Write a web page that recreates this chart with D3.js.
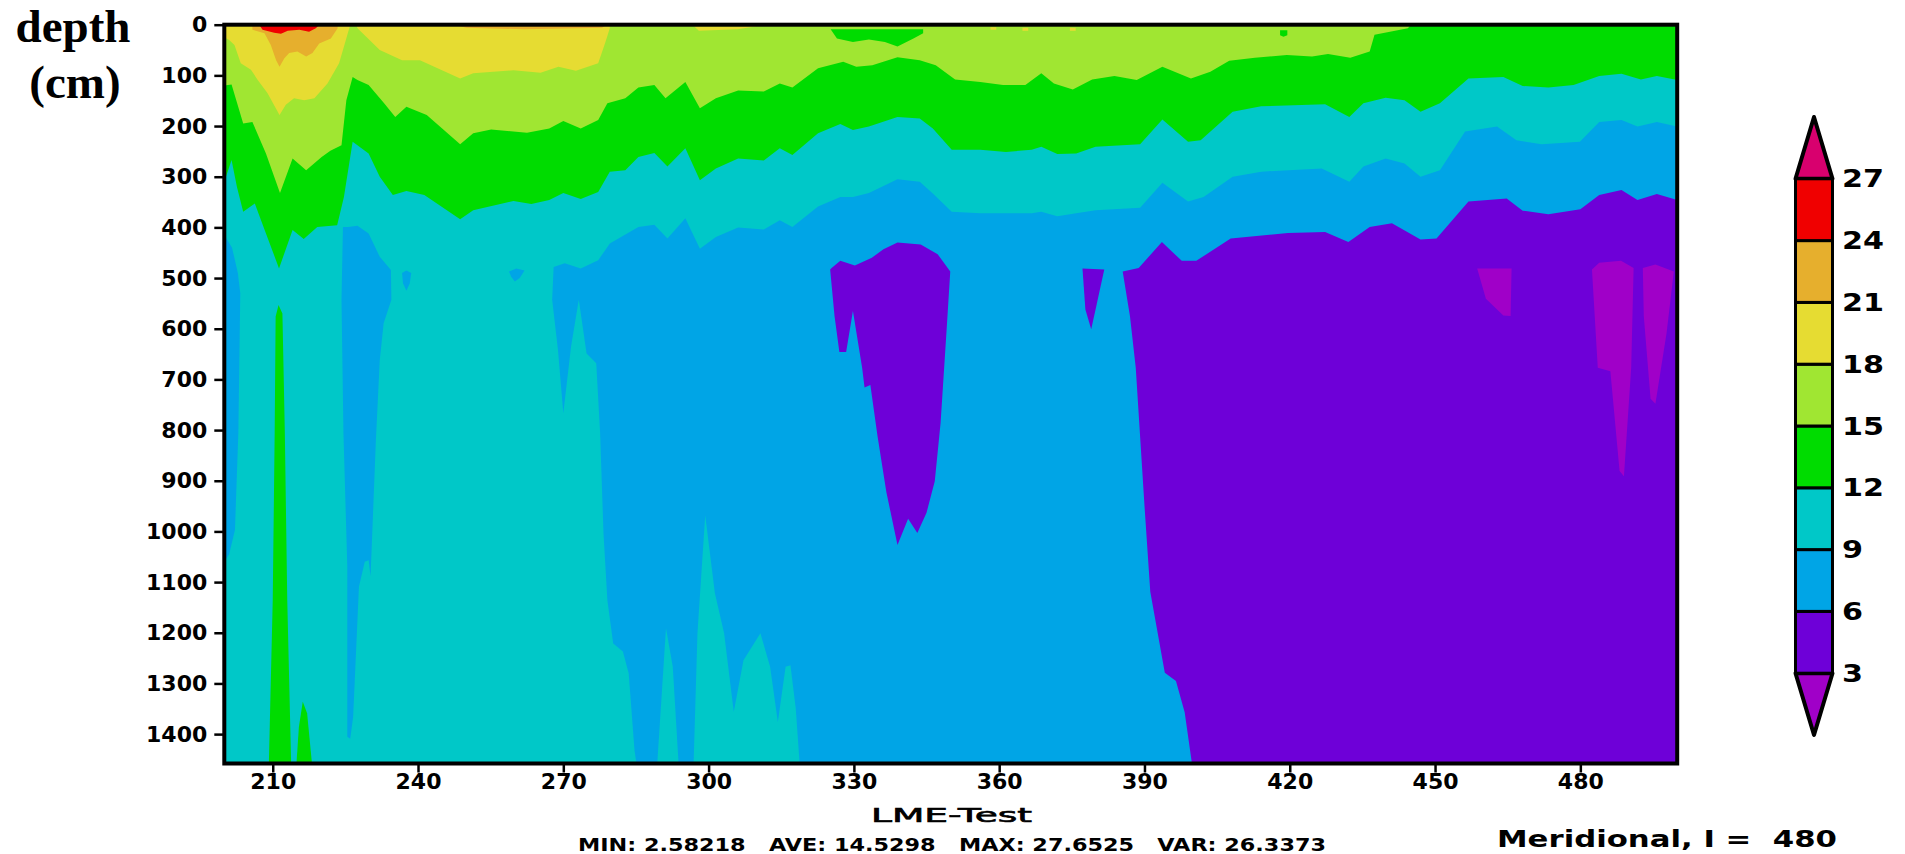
<!DOCTYPE html>
<html>
<head>
<meta charset="utf-8">
<title>LME-Test</title>
<style>
  body { margin: 0; background: #fff; overflow: hidden; }
  svg { display: block; }
  text { font-family: 'DejaVu Sans', sans-serif; font-weight: bold; fill: #000; }
</style>
</head>
<body>
<div id="chart"></div>
<script src="https://cdn.jsdelivr.net/npm/d3@7"></script>
<script>
// tick labels and colour levels
let lonTicks = [210, 240, 270, 300, 330, 360, 390, 420, 450, 480]
let depthTicks = [0, 100, 200, 300, 400, 500, 600, 700, 800, 900, 1000, 1100, 1200, 1300, 1400]
let levels = [3, 6, 9, 12, 15, 18, 21, 24, 27]
let levelColors = ['#a000c8', '#6e00d8', '#00a5e6', '#00c8c8', '#00dc00', '#a0e632', '#e6dc32', '#e6af2d', '#f00000', '#d8006e']

// every outline below is [longitude index, depth in cm]

// warmer than 6
let contour6 = [[200, 0], [200, 1458], [399.8, 1458], [398.3, 1357], [396.5, 1295], [394.2, 1279], [391.2, 1119], [390, 949], [388.2, 677], [387, 575], [385.5, 487], [388.8, 480], [393.6, 429], [397.7, 466], [400.7, 466], [407.8, 422], [419.6, 411], [427.3, 409], [432.1, 429], [436.5, 399], [441.1, 392], [447, 424], [450.3, 422], [456.9, 349], [464.8, 343], [468.1, 367], [473.4, 374], [480, 364], [483.9, 336], [488.5, 326], [491.8, 346], [495.8, 334], [500, 346], [500, 0]]

// colder than 6, islands inside the blue
let cold6Islands = [
  [[325.1, 483], [326, 575], [327, 646], [328.4, 646], [329.8, 565], [331.7, 677], [332.2, 716], [333.4, 711], [334.9, 813], [336.7, 922], [339, 1027], [341.2, 975], [343.1, 1003], [345, 963], [346.7, 901], [347.9, 786], [349.1, 609], [349.9, 487], [347.3, 453], [343.8, 434], [339, 430], [336.1, 443], [333.7, 460], [330.2, 475], [327.2, 466], [325.4, 480]],
  [[377.2, 481], [381.7, 483], [379.9, 562], [379, 601], [377.8, 562]]
]

// colder than 3
let cold3Islands = [
  [[458.7, 481], [465.8, 481], [465.6, 575], [464.1, 574], [460.5, 541]],
  [[482.4, 483], [483.9, 470], [488.4, 466], [491, 480], [490.5, 677], [489, 891], [488.1, 881], [486.2, 684], [483.6, 677]],
  [[492.9, 480], [495.5, 473], [499.3, 487], [497.8, 609], [495.5, 748], [494.5, 738], [493.1, 575]]
]

// warmer than 9
let contour9 = [[200, 0], [200, 1458], [285.1, 1458], [284.7, 1432], [283.5, 1280], [282.3, 1237], [280.3, 1221], [279.1, 1136], [278.3, 1004], [277.6, 806], [276.8, 668], [274.8, 649], [273.2, 543], [271.6, 635], [270, 767], [268.9, 642], [267.7, 543], [268, 478], [270.3, 471], [273.6, 481], [277.2, 465], [279.6, 432], [285.5, 399], [288.8, 395], [291.5, 422], [295.2, 382], [298.2, 442], [301.5, 419], [306.1, 400], [311.4, 404], [314.7, 386], [317.3, 399], [322.6, 359], [327.2, 340], [329.8, 340], [333.1, 332], [339, 305], [343.6, 310], [346.3, 333], [350.2, 369], [356.1, 372], [361.4, 372], [366.7, 372], [368.7, 369], [372, 378], [375.9, 372], [379.9, 366], [389.1, 361], [393.7, 312], [399, 349], [402.2, 340], [408.2, 300], [414.1, 290], [426.6, 284], [432.3, 310], [435.2, 280], [439.8, 264], [443.7, 274], [447, 300], [451, 287], [456.2, 211], [462.8, 201], [466.8, 228], [472, 236], [479.9, 231], [483.9, 192], [488.5, 188], [491.8, 201], [495.8, 192], [500, 201], [500, 0]]

// teal spikes rising from the bottom edge
let warm9Spikes = [
  [[289.4, 1458], [291.2, 1191], [292.6, 1267], [293.8, 1458]],
  [[296.9, 1458], [297.7, 1201], [299.3, 968], [301.3, 1122], [303.2, 1201], [305.2, 1356], [307.2, 1254], [310.7, 1201], [312.7, 1267], [314.3, 1376], [315.9, 1267], [316.9, 1264], [318, 1350], [318.8, 1458]]
]

// blue pockets inside the teal
let cold9Islands = [
  [[200, 415], [201.6, 440], [202.8, 490], [203.3, 530], [202.9, 806], [202.2, 997], [201, 1045], [200, 1060]],
  [[224.5, 399], [225.6, 399], [227.5, 397], [229.8, 412], [232.1, 458], [234.4, 484], [234.5, 543], [232.9, 589], [232.1, 662], [231.3, 820], [230.2, 1089], [229.8, 1057], [229, 1060], [227.8, 1109], [226.6, 1366], [226, 1409], [225.4, 1405], [225.4, 1070], [224.6, 806], [224.2, 543]],
  [[236.7, 490], [237.6, 485], [238.6, 490], [238.3, 510], [237.6, 525], [236.9, 510]],
  [[258.8, 487], [260.3, 481], [262, 485], [261, 500], [260, 507], [259.2, 497]]
]

// warmer than 12
let contour12 = [[200, 0], [200, 310], [201.5, 267], [202.6, 320], [203.9, 369], [206.3, 353], [208.1, 399], [211.3, 481], [214.1, 405], [216.4, 423], [219.2, 399], [223.3, 396], [224.7, 340], [226.5, 231], [229.8, 254], [232.1, 300], [234.8, 336], [237.6, 328], [241.3, 336], [248.7, 384], [251.4, 366], [259.7, 348], [263.4, 354], [267.1, 346], [270, 332], [273.6, 344], [277.2, 330], [279.6, 290], [282.8, 287], [285.5, 261], [288.8, 253], [291.5, 280], [295.2, 244], [298.2, 307], [301.5, 284], [306.1, 264], [311.4, 268], [314.7, 244], [317.3, 257], [322.6, 214], [327.2, 196], [329.8, 208], [333.1, 201], [339, 182], [343.6, 185], [346.3, 205], [350.2, 247], [356.1, 247], [361.4, 251], [366.7, 247], [368.7, 241], [372, 255], [375.9, 254], [379.9, 241], [389.1, 236], [393.7, 187], [399, 231], [401.6, 228], [408.2, 172], [414.1, 161], [427.3, 157], [432.3, 182], [435.2, 155], [439.8, 144], [443.7, 149], [447, 172], [451, 155], [456.9, 106], [464.1, 103], [468.1, 121], [473.4, 124], [478.6, 119], [483.9, 101], [488.5, 97], [492.5, 108], [495.8, 101], [500, 109], [500, 0]]

// thin green columns near the bottom
let warm12Spikes = [
  [[211.2, 553], [212, 570], [212.5, 806], [213, 1136], [213.8, 1458], [209.2, 1458], [210, 1136], [210.4, 806], [210.6, 576]],
  [[216.2, 1336], [217.1, 1359], [218.1, 1458], [214.9, 1458], [215.4, 1386]]
]

// warmer than 15
let contour15 = [[200, 0], [200, 120], [201.5, 118], [203.9, 195], [205.8, 192], [208.6, 254], [211.5, 332], [214.1, 264], [216.9, 287], [220.1, 261], [221.9, 249], [224.2, 238], [225.2, 149], [226.5, 103], [227.5, 109], [229.8, 119], [233, 155], [235.3, 182], [237.6, 162], [241.8, 178], [248.7, 236], [251.4, 214], [255.1, 207], [262.5, 213], [267.1, 205], [270, 190], [273.6, 205], [277.2, 188], [279.1, 155], [282.8, 145], [285.5, 124], [288.8, 119], [291.1, 145], [295.2, 113], [298.2, 165], [301.5, 145], [306.1, 130], [311.4, 132], [314.7, 116], [317.3, 124], [322.6, 86], [327.8, 73], [330.5, 83], [333.8, 80], [339, 64], [343.6, 70], [346.9, 80], [350.9, 108], [356.1, 113], [360.8, 119], [365.4, 119], [368.7, 96], [371.3, 116], [375.2, 128], [379.2, 108], [383.8, 101], [388.4, 109], [393.7, 83], [399.6, 106], [403.6, 93], [407.5, 71], [412.8, 65], [419.4, 60], [424.6, 63], [427.9, 58], [432.5, 65], [436.5, 53], [437.5, 20], [444.4, 7], [445, 0]]

// green pockets in the light green band
let cold15Islands = [
  [[325.2, 9], [344.3, 9], [344.3, 17], [342.3, 27], [339, 43], [336.4, 34], [333.1, 29], [329.8, 34], [326.5, 27]],
  [[418, 11], [419.5, 11], [419.5, 21], [418.7, 24], [418, 21]]
]

// warmer than 18
let contour18 = [
  [[200, 0], [200, 25], [201, 30], [202.1, 40], [203.4, 76], [205.5, 89], [206.9, 109], [208.9, 135], [211.4, 178], [212.7, 158], [214.4, 145], [216.5, 149], [218.6, 145], [221.3, 116], [223.7, 76], [225.1, 30], [225.8, 7], [226, 0]],
  [[227.2, 0], [227.5, 7], [229.3, 24], [232.1, 50], [236.7, 70], [240.4, 70], [248.7, 106], [251.4, 96], [259.7, 90], [265.3, 95], [269, 83], [272.6, 91], [277.2, 76], [278.6, 37], [279.6, 7], [279.6, 0]],
  [[297, 3], [310, 3], [306, 9], [298, 12]],
  [[358.2, 5], [359.4, 5], [359.4, 10], [358.2, 10]],
  [[364.8, 6], [366, 6], [366, 12], [364.8, 12]],
  [[374.6, 6], [375.8, 6], [375.8, 12], [374.6, 12]]
]

// warmer than 21
let contour21 = [
  [[205.8, 0], [205.8, 10], [208.3, 17], [209.6, 40], [210.7, 70], [211.4, 83], [212.4, 66], [213.4, 56], [215.1, 53], [216.9, 63], [218.2, 56], [219.6, 37], [222, 27], [223.4, 7], [223.4, 0]],
  [[247.5, 0], [279, 0], [278, 6], [262, 9], [250, 6]]
]

// warmer than 24
let contour24 = [[207.2, 0], [207.9, 10], [210.3, 16], [211.7, 18], [213.1, 12], [215.5, 10], [217.5, 14], [218.9, 7], [219.6, 0]]

let fullField = [[200, 0], [500, 0], [500, 1458], [200, 1458]]

let svg = d3
  .select('#chart')
  .append('svg')
  .attr('width', 1905)
  .attr('height', 854)

let xPositionScale = d3.scaleLinear().domain([200, 500]).range([224.3, 1677.2])
let yPositionScale = d3.scaleLinear().domain([0, 1458]).range([24.7, 763.5])

let outline = d3
  .line()
  .x(d => xPositionScale(d[0]))
  .y(d => yPositionScale(d[1]))

function fillAll(shapes, color) {
  svg
    .append('g')
    .selectAll('path')
    .data(shapes)
    .enter()
    .append('path')
    .attr('d', d => outline(d) + 'Z')
    .attr('fill', color)
}

// coldest first, each warmer band paints over the last
fillAll([fullField], levelColors[1])
fillAll(cold3Islands, levelColors[0])
fillAll([contour6], levelColors[2])
fillAll(cold6Islands, levelColors[1])
fillAll([contour9].concat(warm9Spikes), levelColors[3])
fillAll(cold9Islands, levelColors[2])
fillAll([contour12].concat(warm12Spikes), levelColors[4])
fillAll([contour15], levelColors[5])
fillAll(cold15Islands, levelColors[4])
fillAll(contour18, levelColors[6])
fillAll(contour21, levelColors[7])
fillAll([contour24], levelColors[8])

// frame
svg
  .append('rect')
  .attr('x', xPositionScale(200))
  .attr('y', yPositionScale(0))
  .attr('width', xPositionScale(500) - xPositionScale(200))
  .attr('height', yPositionScale(1458) - yPositionScale(0))
  .attr('fill', 'none')
  .attr('stroke', '#000')
  .attr('stroke-width', 4)

let xAxis = d3
  .axisBottom(xPositionScale)
  .tickValues(lonTicks)
  .tickSize(9)
  .tickPadding(1)
svg
  .append('g')
  .attr('class', 'axis x-axis')
  .attr('transform', 'translate(0,' + yPositionScale(1458) + ')')
  .call(xAxis)

let yAxis = d3
  .axisLeft(yPositionScale)
  .tickValues(depthTicks)
  .tickFormat(d3.format('d'))
  .tickSize(10)
  .tickPadding(7)
svg
  .append('g')
  .attr('class', 'axis y-axis')
  .attr('transform', 'translate(' + xPositionScale(200) + ',0)')
  .call(yAxis)

svg.selectAll('.axis .domain').remove()
svg.selectAll('.axis line').attr('stroke', '#000').attr('stroke-width', 2.5)
svg
  .selectAll('.axis text')
  .attr('font-size', 22)
  .attr('fill', '#000')
svg.selectAll('.axis').attr('font-family', null).attr('font-size', null)

// colour bar, the pointed ends reach 0 and 30
let barY = d3.scaleLinear().domain([0, 30]).range([735, 117])
let barX = d3.scaleLinear().domain([0, 1]).range([1795.5, 1832.5])

let barEnds = [
  { color: levelColors[0], points: [[0, 3], [1, 3], [0.5, 0]] },
  { color: levelColors[9], points: [[0, 27], [1, 27], [0.5, 30]] }
]

svg
  .append('g')
  .selectAll('path')
  .data(barEnds)
  .enter()
  .append('path')
  .attr('d', d => {
    return d3
      .line()
      .x(p => barX(p[0]))
      .y(p => barY(p[1]))(d.points) + 'Z'
  })
  .attr('fill', d => d.color)
  .attr('stroke', '#000')
  .attr('stroke-width', 4)
  .attr('stroke-linejoin', 'round')

svg
  .append('g')
  .selectAll('rect')
  .data(levels.slice(0, -1))
  .enter()
  .append('rect')
  .attr('x', barX(0))
  .attr('width', barX(1) - barX(0))
  .attr('y', d => barY(d + 3))
  .attr('height', d => barY(d) - barY(d + 3))
  .attr('fill', (d, i) => levelColors[i + 1])
  .attr('stroke', '#000')
  .attr('stroke-width', 3)

// the bar's labels are wide in the original, so they get stretched
svg
  .append('g')
  .selectAll('text')
  .data(levels)
  .enter()
  .append('text')
  .attr('x', 1842)
  .attr('y', d => barY(d))
  .attr('dy', '0.36em')
  .attr('font-size', 24)
  .attr('textLength', d => String(d).length * 21)
  .attr('lengthAdjust', 'spacingAndGlyphs')
  .text(d => d)

// captions
svg
  .append('text')
  .attr('x', 73)
  .attr('y', 42)
  .attr('text-anchor', 'middle')
  .style('font-family', "'Liberation Serif', serif")
  .attr('font-size', 47)
  .text('depth')

svg
  .append('text')
  .attr('x', 75)
  .attr('y', 98)
  .attr('text-anchor', 'middle')
  .style('font-family', "'Liberation Serif', serif")
  .attr('font-size', 47)
  .text('(cm)')

svg
  .append('text')
  .attr('x', 871)
  .attr('y', 822)
  .attr('font-size', 19)
  .attr('textLength', 161)
  .attr('lengthAdjust', 'spacingAndGlyphs')
  .style('font-weight', 'normal')
  .attr('stroke', '#000')
  .attr('stroke-width', 0.6)
  .text('LME-Test')

svg
  .append('text')
  .attr('x', 578)
  .attr('y', 851)
  .attr('font-size', 17)
  .attr('textLength', 748)
  .attr('lengthAdjust', 'spacingAndGlyphs')
  .style('white-space', 'pre')
  .text('MIN: 2.58218   AVE: 14.5298   MAX: 27.6525   VAR: 26.3373')

svg
  .append('text')
  .attr('x', 1497)
  .attr('y', 847)
  .attr('font-size', 23)
  .attr('textLength', 340)
  .attr('lengthAdjust', 'spacingAndGlyphs')
  .style('white-space', 'pre')
  .text('Meridional, I =  480')
</script>
</body>
</html>
